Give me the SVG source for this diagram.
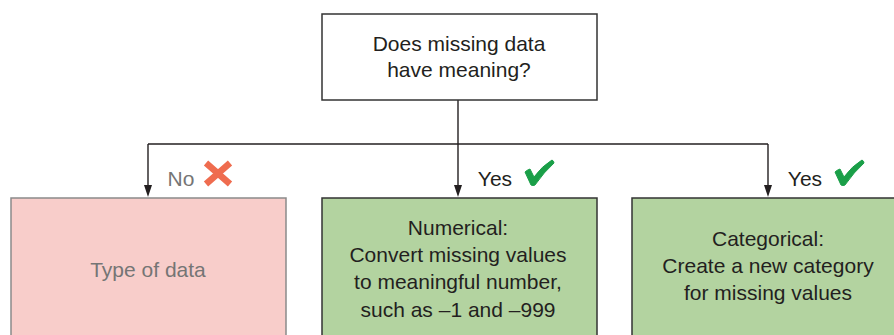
<svg xmlns="http://www.w3.org/2000/svg" width="894" height="335" viewBox="0 0 894 335">
  <style>
    .lbl { font-family: "Liberation Sans", Arial, sans-serif; font-size: 21px; fill: #231f20; text-anchor: middle; }
    .muted { fill: #757575; }
    .box { stroke: #333333; stroke-width: 1.5; }
    .q { fill: #ffffff; }
    .ok { fill: #b3d3a0; }
    .no { fill: #f8cdca; stroke: #8a8a8a; stroke-width: 1.5; }
    .wire { fill: none; stroke: #231f20; stroke-width: 1.4; }
    .head { fill: #231f20; }
    .tick { fill: #1a9f48; stroke: #1a9f48; stroke-width: 1; stroke-linejoin: round; }
    .cross { fill: none; stroke: #ef6c4f; stroke-width: 6.5; stroke-linecap: butt; }
  </style>
  <defs>
    <!-- brush-style check mark, drawn at the origin and placed with translate -->
    <path id="tickmark" d="M0 12 Q2 10 5 9 L9 17 Q17 6 27 0 Q29 1 29 3 Q19 12 10 25 Q8 26 6 25 Z"/>
  </defs>

  <rect width="894" height="335" fill="#ffffff"/>

  <g id="connectors">
    <path class="wire" d="M458 100 V186"/>
    <path class="wire" d="M148 144 H768"/>
    <path class="wire" d="M148 144 V186"/>
    <path class="wire" d="M768 144 V186"/>
    <path class="head" d="M454 185 L462 185 L458 197 Z"/>
    <path class="head" d="M144 185 L152 185 L148 197 Z"/>
    <path class="head" d="M764 185 L772 185 L768 197 Z"/>
  </g>

  <g id="question">
    <rect class="box q" x="322" y="14" width="275" height="86"/>
    <text class="lbl" x="459" y="51">Does missing data</text>
    <text class="lbl" x="459" y="77">have meaning?</text>
  </g>

  <g id="label-no">
    <text class="lbl muted" x="181" y="186">No</text>
    <path class="cross" d="M206 163 L230 184 M230 163 L206 184"/>
  </g>

  <g id="label-yes-numerical">
    <text class="lbl" x="495" y="186">Yes</text>
    <use class="tick" href="#tickmark" transform="translate(525 160)"/>
  </g>

  <g id="label-yes-categorical">
    <text class="lbl" x="805" y="186">Yes</text>
    <use class="tick" href="#tickmark" transform="translate(835 160)"/>
  </g>

  <g id="type-of-data">
    <rect class="no" x="11" y="198" width="275" height="150"/>
    <text class="lbl muted" x="148" y="277">Type of data</text>
  </g>

  <g id="numerical">
    <rect class="box ok" x="322" y="198" width="275" height="150"/>
    <text class="lbl" x="458" y="235">Numerical:</text>
    <text class="lbl" x="458" y="262">Convert missing values</text>
    <text class="lbl" x="458" y="289">to meaningful number,</text>
    <text class="lbl" x="458" y="317">such as –1 and –999</text>
  </g>

  <g id="categorical">
    <rect class="box ok" x="632" y="198" width="275" height="150"/>
    <text class="lbl" x="768" y="246">Categorical:</text>
    <text class="lbl" x="768" y="273">Create a new category</text>
    <text class="lbl" x="768" y="300">for missing values</text>
  </g>
</svg>
